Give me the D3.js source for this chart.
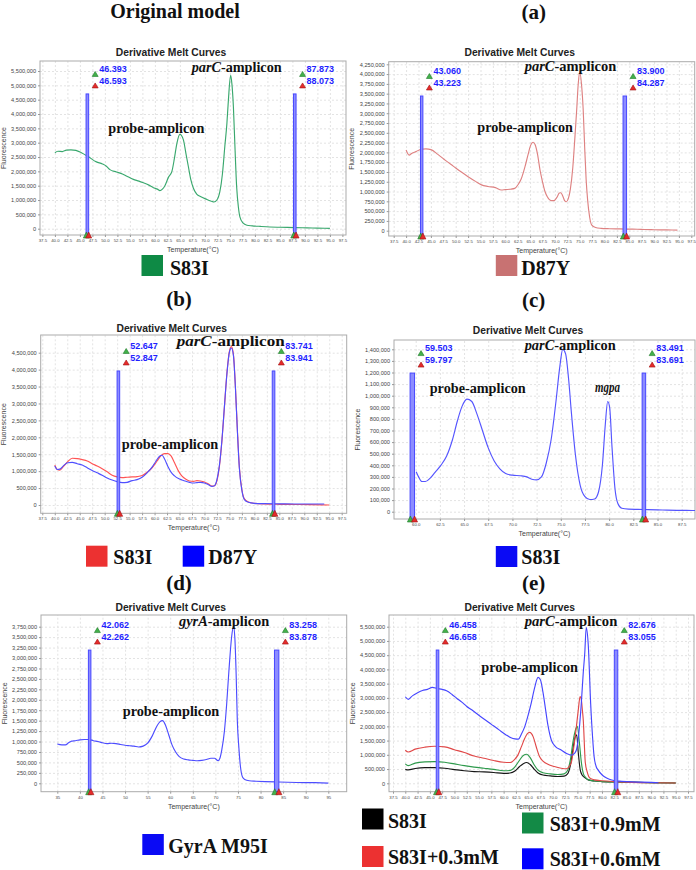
<!DOCTYPE html>
<html><head><meta charset="utf-8">
<script src="https://cdn.jsdelivr.net/npm/d3@7"></script>
<style>html,body{margin:0;padding:0;background:#fff}svg{display:block}</style>
</head><body>
<svg id="c" width="696" height="870"></svg>
<script>
// ---------------- DATA (temperatures in °C, fluorescence in millions) ----------------
const xTicksStd = [37.5,40,42.5,45,47.5,50,52.5,55,57.5,60,62.5,65,67.5,70,72.5,75,77.5,80,82.5,85,87.5,90,92.5,95,97.5];
const xTicksC = [60,62.5,65,67.5,70,72.5,75,77.5,80,82.5,85,87.5];
const xTicksD = [35,40,45,50,55,60,65,70,75,80,85,90,95];
const yTicksOrig = [0,0.5,1,1.5,2,2.5,3,3.5,4,4.5,5,5.5];
const yTicksA = [0,0.25,0.5,0.75,1,1.25,1.5,1.75,2,2.25,2.5,2.75,3,3.25,3.5,3.75,4,4.25];
const yTicksB = [0,0.5,1,1.5,2,2.5,3,3.5,4,4.5];
const yTicksC = [0,0.1,0.2,0.3,0.4,0.5,0.6,0.7,0.8,0.9,1,1.1,1.2,1.3,1.4];
const yTicksD = [0,0.25,0.5,0.75,1,1.25,1.5,1.75,2,2.25,2.5,2.75,3,3.25,3.5,3.75];
const yTicksE = [0,0.5,1,1.5,2,2.5,3,3.5,4,4.5,5,5.5];

// Original model, S83I
const origT = [40.0,40.6,41.5,42.3,43.2,44.2,45.3,46.7,48.3,49.5,50.3,51.0,52.3,53.5,54.3,55.7,56.8,57.7,58.8,59.7,60.5,61.0,61.5,62.0,62.7,63.4,63.9,64.4,65.0,65.7,66.2,66.7,67.2,67.7,68.4,69.1,70.4,71.3,71.8,72.4,73.0,73.5,74.0,74.4,74.7,75.15,75.4,75.7,76.0,76.35,76.7,77.0,77.6,78.4,79.5,81.1,83.0,85.0,87.8,90.4,92.5,95.0];
const origF = [2.65,2.70,2.69,2.74,2.75,2.73,2.65,2.51,2.33,2.26,2.18,2.06,1.98,1.91,1.84,1.72,1.66,1.60,1.52,1.43,1.38,1.33,1.38,1.50,1.79,2.00,2.45,2.98,3.29,3.10,2.63,2.16,1.70,1.41,1.20,1.12,1.02,0.96,0.93,1.00,1.30,1.90,2.90,3.67,4.49,5.35,5.05,4.25,2.90,1.46,0.75,0.41,0.20,0.12,0.10,0.08,0.06,0.05,0.04,0.03,0.02,0.01];

// (a) D87Y
const aT = [40.0,40.6,41.2,42.0,43.0,44.0,45.0,46.4,48.0,49.5,51.0,52.5,54.0,55.2,56.5,58.0,59.2,60.0,61.0,61.9,62.6,63.2,64.0,64.6,65.1,65.6,66.0,66.5,67.0,67.5,68.0,68.5,69.2,69.8,70.4,70.9,71.2,71.6,72.0,72.3,72.7,73.1,73.6,74.0,74.4,74.7,75.0,75.35,75.7,76.0,76.3,76.6,77.0,77.4,78.2,79.3,81.0,83.0,85.0,86.6,88.0,90.0,92.5,94.7];
const aF = [2.06,1.93,1.98,2.02,2.08,2.09,2.07,1.95,1.79,1.65,1.51,1.38,1.26,1.17,1.13,1.10,1.04,1.05,1.06,1.08,1.18,1.32,1.65,1.95,2.18,2.26,2.20,1.95,1.55,1.25,1.00,0.86,0.77,0.77,0.85,0.96,0.97,0.88,0.76,0.74,0.82,1.05,1.60,2.32,3.10,3.74,4.06,3.76,3.10,2.14,1.30,0.78,0.35,0.15,0.08,0.06,0.05,0.045,0.04,0.038,0.03,0.025,0.02,0.015];

// (b) S83I (red) and D87Y (blue)
const bRedT = [40.0,40.5,41.0,41.8,42.6,43.5,44.5,45.5,46.5,47.5,48.5,49.5,50.5,51.5,52.5,53.5,54.5,55.5,56.5,57.5,58.5,59.5,60.5,61.3,62.0,62.7,63.3,64.0,64.8,65.5,66.3,67.0,67.8,68.5,69.2,70.0,70.8,71.5,72.0,72.5,73.0,73.5,74.0,74.5,75.0,75.4,75.8,76.2,76.6,77.0,77.5,78.0,78.8,80.0,82.0,85.0,88.0,91.0,95.0];
const bRedF = [1.18,1.05,1.03,1.15,1.28,1.38,1.37,1.34,1.30,1.22,1.15,1.07,0.98,0.88,0.83,0.81,0.82,0.83,0.84,0.87,0.97,1.10,1.30,1.46,1.52,1.52,1.45,1.25,1.00,0.85,0.76,0.71,0.70,0.72,0.71,0.68,0.62,0.56,0.57,0.72,1.15,1.90,2.90,3.90,4.55,4.68,4.45,3.50,2.20,1.10,0.45,0.18,0.09,0.05,0.03,0.02,0.015,0.01,0.0];
const bBlueT = [40.0,40.5,41.0,41.8,42.6,43.5,44.5,45.5,46.5,47.5,48.5,49.5,50.5,51.5,52.5,53.5,54.5,55.5,56.5,57.5,58.5,59.5,60.3,61.0,61.5,62.0,62.7,63.3,64.0,64.8,65.5,66.3,67.0,67.8,68.5,69.2,70.0,70.8,71.5,72.0,72.5,73.0,73.5,74.0,74.5,75.0,75.4,75.8,76.2,76.6,77.0,77.5,78.0,78.8,80.0,82.0,85.0,88.0,91.0,94.0];
const bBlueF = [1.15,1.05,1.06,1.17,1.25,1.26,1.22,1.18,1.10,1.02,0.95,0.88,0.80,0.74,0.69,0.66,0.67,0.72,0.75,0.82,0.95,1.12,1.30,1.44,1.47,1.36,1.13,0.97,0.86,0.78,0.74,0.70,0.67,0.65,0.66,0.67,0.65,0.60,0.55,0.57,0.75,1.18,1.92,2.92,3.88,4.52,4.64,4.42,3.47,2.17,1.07,0.43,0.16,0.08,0.05,0.04,0.035,0.03,0.03,0.03];

// (c) S83I with mgpa
const cT = [60.05,60.3,60.65,61.0,61.5,62.0,62.6,63.2,63.8,64.3,64.8,65.3,65.8,66.3,66.9,67.5,68.1,68.7,69.3,70.0,70.8,71.5,72.0,72.5,73.0,73.5,74.0,74.5,74.9,75.2,75.5,75.8,76.1,76.5,77.0,77.5,78.0,78.5,78.9,79.3,79.6,79.85,80.05,80.3,80.6,80.9,81.3,82.0,83.0,84.0,85.0,86.0,87.0,88.0,88.9];
const cF = [0.345,0.30,0.26,0.26,0.29,0.34,0.40,0.48,0.62,0.78,0.91,0.97,0.95,0.85,0.70,0.55,0.44,0.37,0.33,0.315,0.31,0.30,0.28,0.275,0.30,0.42,0.62,0.95,1.25,1.40,1.36,1.15,0.85,0.50,0.23,0.13,0.105,0.11,0.17,0.40,0.75,0.95,0.90,0.55,0.20,0.07,0.03,0.022,0.02,0.018,0.016,0.014,0.012,0.011,0.01];

// (d) GyrA M95I
const dT = [35.0,36.0,36.8,37.5,38.2,39.0,40.0,41.0,42.0,43.0,44.0,45.0,46.0,47.0,48.0,49.0,50.0,51.0,52.0,53.0,54.0,55.0,56.0,57.0,57.7,58.3,59.0,59.7,60.4,61.2,62.0,63.0,64.0,65.0,66.0,67.0,68.0,69.0,69.8,70.6,71.0,71.4,72.0,72.5,73.0,73.6,74.0,74.3,74.6,74.85,75.2,75.5,76.0,76.5,77.5,79.0,81.0,84.0,88.0,92.0,95.0];
const dF = [0.94,0.92,0.92,0.97,1.01,1.02,1.04,1.05,1.05,1.02,1.00,0.97,0.95,0.96,0.95,0.93,0.91,0.90,0.89,0.87,0.89,0.96,1.13,1.36,1.47,1.50,1.38,1.15,0.92,0.75,0.64,0.58,0.56,0.55,0.54,0.55,0.57,0.60,0.60,0.54,0.60,0.79,1.25,1.90,2.70,3.51,3.76,3.50,2.60,1.52,0.85,0.45,0.15,0.09,0.06,0.05,0.04,0.03,0.02,0.015,0.005];

// (e) S83I with Mn2+ concentrations
const eBlackT = [40.0,40.6,42.0,44.0,46.0,48.0,50.0,52.0,54.0,56.0,58.0,60.0,61.3,62.3,63.2,64.0,64.7,65.4,66.2,67.0,68.0,69.5,71.0,72.3,73.0,73.6,74.1,74.5,74.85,75.2,75.6,76.0,76.5,77.2,78.5,80.0,82.0,85.0,90.0,95.0];
const eBlackF = [0.49,0.47,0.52,0.55,0.55,0.53,0.48,0.44,0.41,0.40,0.38,0.35,0.36,0.43,0.58,0.69,0.73,0.66,0.50,0.36,0.29,0.26,0.24,0.25,0.33,0.65,1.20,1.60,1.70,1.05,0.45,0.28,0.20,0.12,0.08,0.06,0.05,0.04,0.02,0.01];
const eGreenT = [40.0,40.6,42.0,44.0,46.0,48.0,50.0,52.0,54.0,56.0,58.0,60.0,61.3,62.3,63.2,64.0,64.7,65.4,66.2,67.0,68.0,69.5,71.0,72.3,73.0,73.6,74.1,74.6,75.0,75.4,75.8,76.2,76.7,77.3,78.5,80.0,82.0,85.0,90.0,95.0];
const eGreenF = [0.68,0.62,0.71,0.75,0.76,0.74,0.68,0.62,0.57,0.53,0.49,0.44,0.45,0.58,0.80,0.98,1.02,0.90,0.65,0.46,0.37,0.33,0.31,0.33,0.45,0.85,1.45,1.87,2.00,1.45,0.75,0.35,0.20,0.12,0.08,0.06,0.05,0.04,0.02,0.01];
const eRedT = [40.0,40.6,42.0,44.0,46.0,48.0,50.0,52.0,54.0,56.0,58.0,60.0,61.3,62.3,62.9,63.6,64.3,64.8,65.3,66.0,66.6,67.3,68.0,69.0,70.3,71.7,72.75,73.3,73.8,74.3,74.8,75.2,75.55,75.8,76.0,76.2,76.6,77.0,77.5,78.5,80.0,82.5,85.0,90.0,95.0];
const eRedF = [1.16,1.10,1.20,1.27,1.30,1.28,1.18,1.08,0.96,0.88,0.80,0.74,0.73,0.85,0.99,1.28,1.58,1.74,1.79,1.64,1.30,0.94,0.78,0.67,0.59,0.53,0.51,0.58,0.75,1.30,1.99,2.60,3.05,2.95,2.60,2.22,0.75,0.40,0.19,0.12,0.09,0.06,0.04,0.02,0.01];
const eBlueT = [40.0,40.6,41.5,42.5,43.5,44.5,45.5,46.5,47.5,48.5,49.5,50.5,51.5,52.5,53.5,54.5,55.5,56.5,57.5,58.5,59.5,60.5,61.5,62.3,63.0,63.6,64.3,65.0,65.6,66.3,67.0,67.5,68.0,68.35,69.0,69.7,70.5,71.7,72.8,73.8,74.4,74.8,75.2,75.8,76.2,76.5,76.8,77.2,77.7,78.1,78.4,78.8,79.2,80.0,80.5,81.5,82.6,84.0,86.0,88.0,90.0,91.5];
const eBlueF = [3.04,2.95,3.08,3.18,3.26,3.30,3.37,3.33,3.30,3.24,3.12,2.98,2.85,2.70,2.58,2.45,2.32,2.20,2.07,1.95,1.82,1.70,1.60,1.56,1.55,1.72,1.99,2.40,2.81,3.35,3.72,3.63,3.20,2.81,2.05,1.52,1.30,1.17,1.05,0.99,1.05,1.17,1.60,2.81,3.90,4.56,5.47,4.90,2.81,1.60,0.94,0.60,0.47,0.30,0.23,0.14,0.09,0.07,0.05,0.04,0.03,0.02];

// cursor pairs (°C) and cursor heights (millions)
const cursorsOrig = [[46.393,46.593],[87.873,88.073]]; const cursorTopOrig = 4.70;
const cursorsA = [[43.060,43.223],[83.900,84.287]];    const cursorTopA = 3.44;
const cursorsB = [[52.647,52.847],[83.741,83.941]];    const cursorTopB = 3.96;
const cursorsC = [[59.503,59.797],[83.491,83.691]];    const cursorTopC = 1.195;
const cursorsD = [[42.062,42.262],[83.258,83.878]];    const cursorTopD = 3.19;
const cursorsE = [[46.458,46.658],[82.676,83.055]];    const cursorTopE = 4.68;

// legend categories
const legendOrig = ['S83I'];
const legendA = ['D87Y'];
const legendB = ['S83I','D87Y'];
const legendC = ['S83I'];
const legendD = ['GyrA M95I'];
const legendE = ['S83I','S83I+0.9mM','S83I+0.3mM','S83I+0.6mM'];

// ---------------- DRAWING ----------------
const SERIF = '"Liberation Serif","Times New Roman",Times,serif';
const SANS = '"Liberation Sans",Arial,Helvetica,sans-serif';
const svg = d3.select('#c');
const fmtMillions = v => v === 0 ? '0' : d3.format(',')(Math.round(v * 1e6));

function tri(g, cx, baseY, fill, stroke, w, h) {
  g.append('path')
    .attr('d', `M${cx - w/2},${baseY}L${cx + w/2},${baseY}L${cx},${baseY - h}Z`)
    .attr('fill', fill).attr('stroke', stroke).attr('stroke-width', 0.6);
}

function drawPanel(cfg) {
  const f = cfg.frame;
  const x = d3.scaleLinear().domain(cfg.xA).range(cfg.xP);
  const y = d3.scaleLinear().domain(cfg.yA).range(cfg.yP);
  const g = svg.append('g');
  const clipId = 'clip-' + cfg.id;
  g.append('clipPath').attr('id', clipId).append('rect')
    .attr('x', f.l).attr('y', f.t).attr('width', f.r - f.l).attr('height', f.b - f.t);

  // grid
  const gx = g.append('g').attr('transform', `translate(0,${f.b})`)
    .call(d3.axisBottom(x).tickValues(cfg.xTicks).tickSize(-(f.b - f.t)).tickFormat(''));
  gx.select('.domain').remove();
  gx.selectAll('line').attr('stroke', '#e3e3e3').attr('stroke-dasharray', '2,2');
  const gy = g.append('g').attr('transform', `translate(${f.l},0)`)
    .call(d3.axisLeft(y).tickValues(cfg.yTicks).tickSize(-(f.r - f.l)).tickFormat(''));
  gy.select('.domain').remove();
  gy.selectAll('line').attr('stroke', '#e3e3e3').attr('stroke-dasharray', '2,2');

  // frame
  g.append('rect').attr('x', f.l).attr('y', f.t).attr('width', f.r - f.l).attr('height', f.b - f.t)
    .attr('fill', 'none').attr('stroke', '#ababab').attr('stroke-width', 1);

  // axes
  const ax = g.append('g').attr('transform', `translate(0,${f.b})`)
    .call(d3.axisBottom(x).tickValues(cfg.xTicks).tickFormat(cfg.xFmt).tickSize(2).tickPadding(2));
  ax.select('.domain').remove();
  ax.selectAll('line').attr('stroke', '#999');
  ax.selectAll('text').attr('font-size', 4.3).attr('font-family', SANS).attr('fill', '#444');
  const ay = g.append('g').attr('transform', `translate(${f.l},0)`)
    .call(d3.axisLeft(y).tickValues(cfg.yTicks).tickFormat(fmtMillions).tickSize(2).tickPadding(2));
  ay.select('.domain').remove();
  ay.selectAll('line').attr('stroke', '#999');
  ay.selectAll('text').attr('font-size', 5.6).attr('font-family', SANS).attr('fill', '#444');

  // axis titles
  g.append('text').attr('x', (f.l + f.r) / 2).attr('y', f.b + 17).attr('text-anchor', 'middle')
    .attr('font-family', SANS).attr('font-size', 7).attr('fill', '#444').text('Temperature(°C)');
  g.append('text').attr('transform', `translate(${f.l - 34.5},${(f.t + f.b) / 2}) rotate(-90)`)
    .attr('text-anchor', 'middle').attr('font-family', SANS).attr('font-size', 7).attr('fill', '#444')
    .text('Fluorescence');

  // chart title
  g.append('text').attr('x', cfg.title[0]).attr('y', cfg.title[1]).attr('text-anchor', 'middle')
    .attr('font-family', SANS).attr('font-weight', 'bold').attr('font-size', 10.3).attr('fill', '#222')
    .text('Derivative Melt Curves');

  // curves
  const line = d3.line().x(d => x(d[0])).y(d => y(d[1])).curve(d3.curveMonotoneX);
  g.append('g').attr('clip-path', `url(#${clipId})`)
    .selectAll('path').data(cfg.series).join('path')
    .attr('d', s => line(d3.zip(s.t, s.f)))
    .attr('fill', 'none').attr('stroke', s => s.color).attr('stroke-width', 1.15)
    .attr('stroke-linejoin', 'round');

  // cursors
  const yTop = y(cfg.cursorTop);
  cfg.cursors.forEach(([v1, v2]) => {
    const x1 = x(v1), x2 = x(v2);
    g.append('rect').attr('x', x1 - 0.8).attr('y', yTop).attr('width', x2 - x1 + 1.6).attr('height', f.b - yTop)
      .attr('fill', '#8c8cff').attr('stroke', '#4848ff').attr('stroke-width', 1);
    tri(g, x1 - 0.5, f.b + 3, '#43b04a', '#1f7a2a', 6, 6);
    tri(g, x2 + 0.8, f.b + 3, '#e52b2b', '#a01010', 6, 6);
    const xr = x2 + 0.8;
    tri(g, xr + 6.5, yTop - 17.5, '#43b04a', '#1f7a2a', 6, 5);
    tri(g, xr + 6.5, yTop - 6, '#e52b2b', '#a01010', 6, 5);
    g.append('text').attr('x', xr + 10.5).attr('y', yTop - 21.8)
      .attr('font-family', SANS).attr('font-weight', 'bold').attr('font-size', 9).attr('fill', '#1f1fff')
      .text(d3.format('.3f')(v1));
    g.append('text').attr('x', xr + 10.5).attr('y', yTop - 10.4)
      .attr('font-family', SANS).attr('font-weight', 'bold').attr('font-size', 9).attr('fill', '#1f1fff')
      .text(d3.format('.3f')(v2));
  });

  // annotations
  cfg.notes.forEach(n => {
    const t = g.append('text').attr('x', n.x).attr('y', n.y).attr('font-family', SERIF)
      .attr('font-weight', 'bold').attr('font-size', n.size || 14.3).attr('fill', '#111');
    if (n.italic) t.append('tspan').attr('font-style', 'italic').text(n.italic);
    if (n.text) t.append('tspan').text(n.text);
    if (n.len) t.attr('textLength', n.len).attr('lengthAdjust', 'spacingAndGlyphs');
  });

  // panel label
  svg.append('text').attr('x', cfg.label.x).attr('y', cfg.label.y).attr('text-anchor', 'middle')
    .attr('font-family', SERIF).attr('font-weight', 'bold').attr('font-size', cfg.label.size)
    .attr('fill', '#111').text(cfg.label.text);

  // legend
  cfg.legend.forEach(it => {
    svg.append('rect').attr('x', it.sx).attr('y', it.sy).attr('width', 21.5).attr('height', 21)
      .attr('fill', it.color);
    svg.append('text').attr('x', it.tx).attr('y', it.ty).attr('font-family', SERIF)
      .attr('font-weight', 'bold').attr('font-size', 20).attr('fill', '#111').text(it.label);
  });
}

const fmt1 = d3.format('.1f');
const fmt0 = d3.format('d');

const panels = [
  { id: 'orig', frame: {l: 40, t: 61, r: 346, b: 235}, xA: [37.5, 97.5], xP: [42.4, 342.4], yA: [0, 5.5], yP: [228.7, 71],
    xTicks: xTicksStd, yTicks: yTicksOrig, xFmt: fmt1, title: [171, 55.5],
    series: [{t: origT, f: origF, color: '#3aa86e'}], cursors: cursorsOrig, cursorTop: cursorTopOrig,
    notes: [{x: 108.3, y: 132.5, text: 'probe-amplicon', len: 96}, {x: 191.7, y: 71.5, italic: 'parC', text: '-amplicon', len: 90}],
    label: {text: 'Original model', x: 175, y: 17.5, size: 20},
    legend: [{label: legendOrig[0], color: '#0e8a45', sx: 141.5, sy: 255, tx: 170, ty: 274.5}] },
  { id: 'a', frame: {l: 388.7, t: 61.7, r: 694.7, b: 236}, xA: [37.5, 97.5], xP: [393.7, 691.3], yA: [0, 4.25], yP: [230.7, 64.3],
    xTicks: xTicksStd, yTicks: yTicksA, xFmt: fmt1, title: [519.7, 56],
    series: [{t: aT, f: aF, color: '#de8282'}], cursors: cursorsA, cursorTop: cursorTopA,
    notes: [{x: 477.3, y: 132, text: 'probe-amplicon', len: 95.7}, {x: 524.7, y: 70.5, italic: 'parC', text: '-amplicon', len: 91.6}],
    label: {text: '(a)', x: 533.7, y: 19, size: 21},
    legend: [{label: legendA[0], color: '#c87272', sx: 495.8, sy: 255, tx: 521.3, ty: 274.5}] },
  { id: 'b', frame: {l: 40.7, t: 335, r: 346.7, b: 513.3}, xA: [37.5, 97.5], xP: [42.3, 341.7], yA: [0, 4.5], yP: [505, 352.7],
    xTicks: xTicksStd, yTicks: yTicksB, xFmt: fmt1, title: [171.7, 331.5],
    series: [{t: bRedT, f: bRedF, color: '#ff5454'}, {t: bBlueT, f: bBlueF, color: '#4f4fff'}], cursors: cursorsB, cursorTop: cursorTopB,
    notes: [{x: 121.7, y: 448.5, text: 'probe-amplicon', len: 96.6}, {x: 176.7, y: 346, italic: 'parC', text: '-amplicon', len: 108}],
    label: {text: '(b)', x: 179, y: 305.5, size: 21},
    legend: [{label: legendB[0], color: '#ec3131', sx: 86, sy: 545.7, tx: 113.3, ty: 564},
             {label: legendB[1], color: '#0000ff', sx: 182.7, sy: 545.7, tx: 208.3, ty: 564}] },
  { id: 'c', frame: {l: 394, t: 340, r: 695, b: 519}, xA: [60, 87.5], xP: [415.7, 681.7], yA: [0, 1.4], yP: [511.7, 349.3],
    xTicks: xTicksC, yTicks: yTicksC, xFmt: fmt1, title: [528, 334],
    series: [{t: cT, f: cF, color: '#5555ff'}], cursors: cursorsC, cursorTop: cursorTopC,
    notes: [{x: 429.7, y: 392.5, text: 'probe-amplicon', len: 96}, {x: 524.7, y: 350, italic: 'parC', text: '-amplicon', len: 91},
            {x: 595, y: 391.5, italic: 'mgpa', len: 25}],
    label: {text: '(c)', x: 533.7, y: 307, size: 21},
    legend: [{label: legendC[0], color: '#0a0af5', sx: 495.8, sy: 546, tx: 521.3, ty: 564}] },
  { id: 'd', frame: {l: 41, t: 615, r: 346.7, b: 791.7}, xA: [35, 95], xP: [57.3, 328.3], yA: [0, 3.75], yP: [783.3, 626.7],
    xTicks: xTicksD, yTicks: yTicksD, xFmt: fmt0, title: [170.7, 610.5],
    series: [{t: dT, f: dF, color: '#4d4dff'}], cursors: cursorsD, cursorTop: cursorTopD,
    notes: [{x: 122.7, y: 716, text: 'probe-amplicon', len: 96.6}, {x: 179, y: 626, italic: 'gyrA', text: '-amplicon', len: 90.3}],
    label: {text: '(d)', x: 179, y: 589.5, size: 21},
    legend: [{label: legendD[0], color: '#0a0af5', sx: 142.3, sy: 834, tx: 168.3, ty: 852.7}] },
  { id: 'e', frame: {l: 389, t: 615, r: 694, b: 791.7}, xA: [37.5, 97.5], xP: [393, 688], yA: [0, 5.5], yP: [783.3, 626.7],
    xTicks: xTicksStd, yTicks: yTicksE, xFmt: fmt1, title: [519.7, 610.5],
    series: [{t: eBlackT, f: eBlackF, color: '#161616'}, {t: eGreenT, f: eGreenF, color: '#2e9a4c'},
             {t: eRedT, f: eRedF, color: '#e04848'}, {t: eBlueT, f: eBlueF, color: '#4646ff'}],
    cursors: cursorsE, cursorTop: cursorTopE,
    notes: [{x: 481.3, y: 672, text: 'probe-amplicon', len: 96.7}, {x: 524.7, y: 626, italic: 'parC', text: '-amplicon', len: 92.6}],
    label: {text: '(e)', x: 533.7, y: 589.5, size: 21},
    legend: [{label: legendE[0], color: '#000000', sx: 362, sy: 808.5, tx: 388, ty: 828.3},
             {label: legendE[1], color: '#138a46', sx: 522, sy: 812.5, tx: 549.7, ty: 831},
             {label: legendE[2], color: '#ec3131', sx: 362, sy: 846, tx: 388, ty: 864},
             {label: legendE[3], color: '#0000ff', sx: 522, sy: 848.3, tx: 549.7, ty: 865.5}] }
];

panels.forEach(drawPanel);
</script>
</body></html>
